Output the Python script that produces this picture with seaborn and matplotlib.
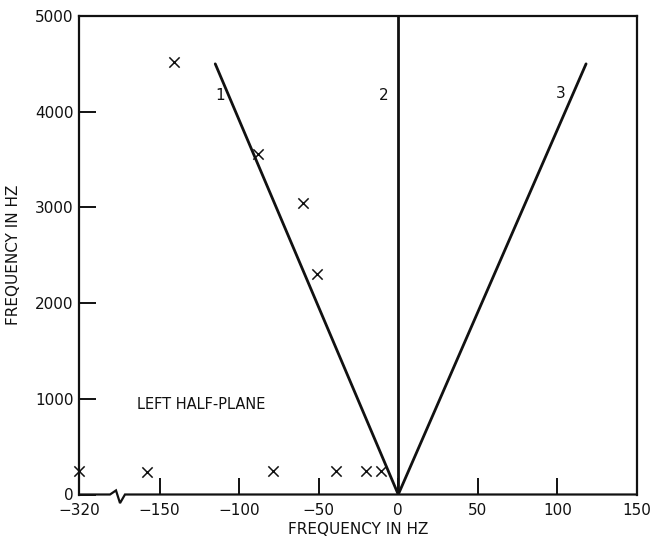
import numpy as np
import pandas as pd
import matplotlib
matplotlib.use("Agg")
import matplotlib.pyplot as plt
import seaborn as sns

# Measured root locations (frequency offset vs. centre frequency)
root_freq = [-320, -158, -79, -39, -20, -11, -141, -88, -60, -51]
root_height = [250, 240, 250, 250, 250, 250, 4520, 3560, 3050, 2300]

# Theoretical loci, each drawn from the origin to its end point
locus_ids = ["1", "2", "3"]
locus_end_x = [-115, 0, 118]
locus_end_y = [4500, 5000, 4500]
locus_label_x = [-112, -9, 102]
locus_label_y = [4170, 4170, 4190]

x_ticks = [-320, -150, -100, -50, 0, 50, 100, 150]
y_ticks = [0, 1000, 2000, 3000, 4000, 5000]

# Broken x axis: values left of the break are compressed
BREAK = -175.0
SQUEEZE = 0.1766


def fwd(x):
    x = np.asarray(x, dtype=float)
    return np.where(x >= BREAK, x, BREAK + (x - BREAK) * SQUEEZE)


def inv(x):
    x = np.asarray(x, dtype=float)
    return np.where(x >= BREAK, x, BREAK + (x - BREAK) / SQUEEZE)


sns.set_theme(style="white")
plt.rcParams["font.family"] = ["DejaVu Sans"]

fig = plt.figure(figsize=(6.53, 5.36), dpi=100)
ax = fig.add_axes([79 / 653, 1 - 494.5 / 536, (637 - 79) / 653, (494.5 - 16) / 536])
ax.set_xscale("function", functions=(fwd, inv))
ax.set_xlim(-320, 150)
ax.set_ylim(0, 5000)

ink = "#111111"

loci = pd.DataFrame({
    "locus": [lid for lid in locus_ids for _ in range(2)],
    "x": [v for ex in locus_end_x for v in (0, ex)],
    "y": [v for ey in locus_end_y for v in (0, ey)],
})
sns.lineplot(data=loci, x="x", y="y", units="locus", estimator=None, sort=False,
             color=ink, linewidth=2.0, ax=ax, legend=False)

roots = pd.DataFrame({"x": root_freq, "y": root_height})
sns.scatterplot(data=roots, x="x", y="y", marker="x", s=55, color=ink,
                linewidth=1.1, ax=ax, legend=False, zorder=7, clip_on=False)

for lid, lx, ly in zip(locus_ids, locus_label_x, locus_label_y):
    ax.text(lx, ly, lid, fontsize=11, color=ink, ha="center", va="center")

ax.text(-164, 940, "LEFT HALF-PLANE", fontsize=10.5, color=ink,
        ha="left", va="center")

# Spines: full box, bottom one drawn by hand with a break mark
for side in ["top", "right", "left"]:
    ax.spines[side].set_color(ink)
    ax.spines[side].set_linewidth(1.6)
ax.spines["bottom"].set_visible(False)
tr = ax.transAxes
bx = [0.0, 0.0556, 0.0663, 0.0735, 0.0824, 1.0]
by = [0.0, 0.0, 0.0085, -0.018, 0.0, 0.0]
ax.plot(bx, by, transform=tr, color=ink, lw=1.6, clip_on=False,
        solid_joinstyle="miter", zorder=6)

ax.set_xticks(x_ticks)
ax.set_xticklabels([f"{t:d}".replace("-", "\u2212") for t in x_ticks])
ax.set_yticks(y_ticks)
ax.set_yticklabels([str(t) for t in y_ticks])
ax.tick_params(axis="both", direction="in", length=12, width=1.4, color=ink,
               labelsize=11, labelcolor=ink, bottom=True, left=True,
               top=False, right=False)
ax.tick_params(axis="x", pad=6)
ax.tick_params(axis="y", pad=4)

ax.set_xlabel("FREQUENCY IN HZ", fontsize=11, color=ink, labelpad=3)
ax.set_ylabel("FREQUENCY IN HZ", fontsize=11, color=ink, labelpad=10)

fig.savefig("out.png", dpi=100)
